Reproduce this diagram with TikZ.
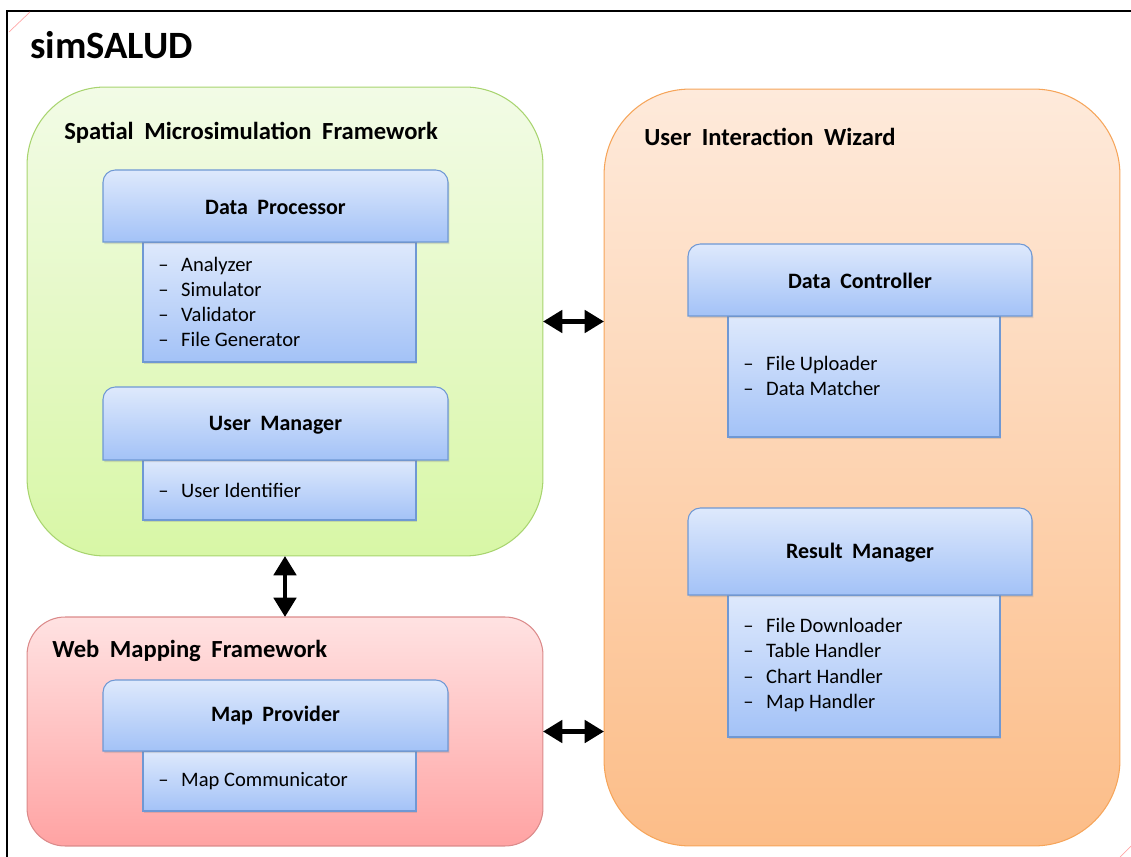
\documentclass[tikz,border=0pt]{standalone}
\usepackage{fontspec}
\setmainfont{Carlito}
\usetikzlibrary{arrows.meta,shadows}

\definecolor{smftop}{HTML}{F2FBE6}
\definecolor{smfbot}{HTML}{D8F7A6}
\definecolor{smfline}{HTML}{A8D46F}
\definecolor{uiwtop}{HTML}{FEEADB}
\definecolor{uiwbot}{HTML}{FCBD88}
\definecolor{uiwline}{HTML}{F6A55A}
\definecolor{wmftop}{HTML}{FFE2E2}
\definecolor{wmfbot}{HTML}{FFA3A3}
\definecolor{wmfline}{HTML}{DB8A8A}
\definecolor{modtop}{HTML}{DEE9FC}
\definecolor{modbot}{HTML}{A3C2F7}
\definecolor{modline}{HTML}{6F98D4}

\newcommand{\itm}[1]{\makebox[13pt][l]{--}#1}
\newcommand{\widesp}{\spaceskip=0.43em\relax}

\begin{document}
\begin{tikzpicture}%
	[x={(0.02cm, 0cm)},
	y={(0cm, -0.02cm)},
	panel/.style={inner sep=0pt, outer sep=0pt, line width=0.6pt, minimum width=10.32cm},
	smfpanel/.style={panel, draw=smfline, top color=smftop, bottom color=smfbot, minimum height=9.38cm, rounded corners=1.56cm},
	uiwpanel/.style={panel, draw=uiwline, top color=uiwtop, bottom color=uiwbot, minimum height=15.14cm, rounded corners=1.72cm},
	wmfpanel/.style={panel, draw=wmfline, top color=wmftop, bottom color=wmfbot, minimum height=4.58cm, rounded corners=0.76cm},
	modbox/.style={draw=modline, line width=0.6pt, top color=modtop, bottom color=modbot,
		drop shadow={shadow xshift=0.8pt, shadow yshift=-1.2pt, opacity=0.25}},
	hdrtext/.style={inner sep=0pt, font=\fontsize{12.5}{15}\selectfont\bfseries\widesp},
	items/.style={anchor=west, align=left, inner sep=0pt, font=\fontsize{11.7}{14.3}\selectfont},
	paneltitle/.style={anchor=west, inner sep=0pt, font=\fontsize{14}{17}\selectfont\bfseries\widesp},
	biarrow/.style={{Triangle[length=11pt,width=12.5pt]}-{Triangle[length=11pt,width=12.5pt]}, line width=2.8pt}]
%
\useasboundingbox (0,0) rectangle (1131,857);
%% outer frame
\draw[line width=1.2pt] (7,857) -- (7,11) -- (1131,11);
\draw[red!35, line width=0.4pt] (9,32) -- (30,12);
\draw[red!35, line width=0.4pt] (1120,857) -- (1131,846);
\node[anchor=west, inner sep=0pt, font=\fontsize{22}{26}\selectfont\bfseries] (title) at (30,45) {simSALUD};
%%
%% panels
%%
\node[smfpanel] (smf) at (285,321.5) {};
\node[uiwpanel] (uiw) at (862,467.5) {};
\node[wmfpanel] (wmf) at (285,731.5) {};
\node[paneltitle] (smftitle) at (64,133) {Spatial Microsimulation Framework};
\node[paneltitle] (uiwtitle) at (644,137) {User Interaction Wizard};
\node[paneltitle] (wmftitle) at (52,651) {Web Mapping Framework};
%%
%% Data Processor
%%
\shade[modbox] (143,242) rectangle (416,362);
\node[items] (dpitems) at (158,302) {\itm{Analyzer}\\ \itm{Simulator}\\ \itm{Validator}\\ \itm{File Generator}};
\shade[modbox] (103,242) [rounded corners=7pt] -- (103,170) -- (448,170) [sharp corners] -- (448,242) -- cycle;
\node[hdrtext] (dp) at (275.5,207) {Data Processor};
%%
%% User Manager
%%
\shade[modbox] (143,460) rectangle (416,520);
\node[items] (umitems) at (158,490) {\itm{User Identifier}};
\shade[modbox] (103,460) [rounded corners=7pt] -- (103,387) -- (448,387) [sharp corners] -- (448,460) -- cycle;
\node[hdrtext] (um) at (275.5,425) {User Manager};
%%
%% Map Provider
%%
\shade[modbox] (143,751) rectangle (416,811);
\node[items] (mpitems) at (158,781) {\itm{Map Communicator}};
\shade[modbox] (103,751) [rounded corners=7pt] -- (103,680) -- (448,680) [sharp corners] -- (448,751) -- cycle;
\node[hdrtext] (mp) at (275.5,716) {Map Provider};
%%
%% Data Controller
%%
\shade[modbox] (728,316) rectangle (1000,437);
\node[items] (dcitems) at (743,376) {\itm{File Uploader}\\ \itm{Data Matcher}};
\shade[modbox] (688,316) [rounded corners=7pt] -- (688,244) -- (1032,244) [sharp corners] -- (1032,316) -- cycle;
\node[hdrtext] (dc) at (860,281) {Data Controller};
%%
%% Result Manager
%%
\shade[modbox] (728,595) rectangle (1000,737);
\node[items] (rmitems) at (743,665) {\itm{File Downloader}\\ \itm{Table Handler}\\ \itm{Chart Handler}\\ \itm{Map Handler}};
\shade[modbox] (688,595) [rounded corners=7pt] -- (688,508) -- (1032,508) [sharp corners] -- (1032,595) -- cycle;
\node[hdrtext] (rm) at (860,553) {Result Manager};
%%
%% arrows
%%
\draw[biarrow] (smf.south) -- (wmf.north);
\draw[biarrow] (smf.east) -- (smf.east -| uiw.west);
\draw[biarrow] (wmf.east) -- (wmf.east -| uiw.west);

\end{tikzpicture}
\end{document}
